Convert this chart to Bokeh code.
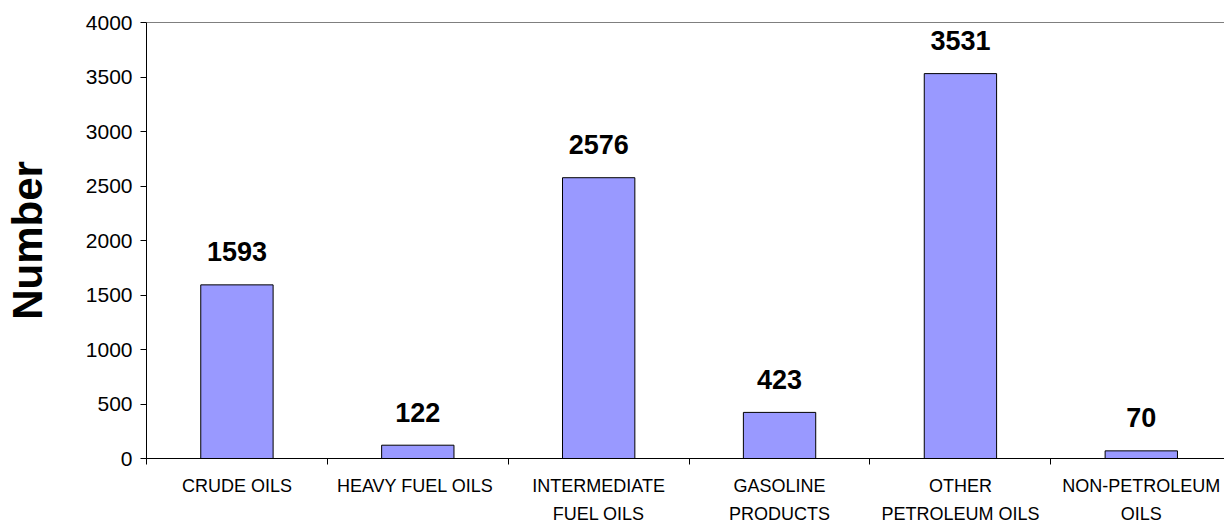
from bokeh.plotting import figure
from bokeh.models import Range1d, FixedTicker, ColumnDataSource, LabelSet, Span
from bokeh.core.properties import value
from bokeh.embed import file_html
from bokeh.resources import INLINE

categories = ["CRUDE OILS", "HEAVY  FUEL OILS", "INTERMEDIATE\nFUEL OILS",
              "GASOLINE\nPRODUCTS", "OTHER\nPETROLEUM OILS", "NON-PETROLEUM\nOILS"]
counts = [1593, 122, 2576, 423, 3531, 70]
y_ticks = [0, 500, 1000, 1500, 2000, 2500, 3000, 3500, 4000]

centers = [i + 0.5 for i in range(len(categories))]
bounds = [i for i in range(len(categories) + 1)]

src = ColumnDataSource(dict(x=centers, top=counts, lbl=[str(c) for c in counts]))

p = figure(width=1224, height=526, output_backend="svg", toolbar_location=None,
           x_range=Range1d(0, 5.96), y_range=Range1d(0, 4000),
           min_border_top=22, min_border_bottom=0, min_border_left=142, min_border_right=0)
p.outline_line_color = None
p.xgrid.visible = False
p.ygrid.visible = False
p.background_fill_color = "white"
p.border_fill_color = "white"

p.vbar(x="x", top="top", width=0.4, source=src, fill_color="#9999FF",
       line_color="black", line_width=1)

p.add_layout(Span(location=4000, dimension="width", line_color="black", line_width=1))

labels = LabelSet(x="x", y="top", text="lbl", source=src, text_align="center",
                  text_baseline="middle", y_offset=33,
                  text_font=value("Liberation Sans"), text_font_style="bold",
                  text_font_size="27px", text_color="black")
p.add_layout(labels)

# x axis: labels at centers, minor ticks at boundaries
xa = p.xaxis[0]
xa.ticker = FixedTicker(ticks=centers, minor_ticks=bounds)
xa.major_label_overrides = {c: lab for c, lab in zip(centers, categories)}
xa.major_tick_line_color = None
xa.major_tick_in = 0
xa.major_tick_out = 6
xa.minor_tick_in = 0
xa.minor_tick_out = 6
xa.minor_tick_line_color = "black"
xa.axis_line_color = "black"
xa.major_label_standoff = 11
xa.major_label_text_font = "Liberation Sans"
xa.major_label_text_font_size = "18px"
xa.major_label_text_line_height = 1.4
xa.major_label_text_color = "black"

ya = p.yaxis[0]
ya.ticker = FixedTicker(ticks=y_ticks)
ya.minor_tick_line_color = None
ya.major_tick_in = 0
ya.major_tick_out = 6
ya.major_tick_line_color = "black"
ya.axis_line_color = "black"
ya.major_label_standoff = 8
ya.major_label_text_font = "Liberation Sans"
ya.major_label_text_font_size = "21px"
ya.major_label_text_color = "black"
ya.axis_label = "Number"
ya.axis_label_text_font = "Liberation Sans"
ya.axis_label_text_font_style = "bold"
ya.axis_label_text_font_size = "42px"
ya.axis_label_text_color = "black"
ya.axis_label_standoff = 32

open("out.html", "w").write(file_html(p, INLINE))
